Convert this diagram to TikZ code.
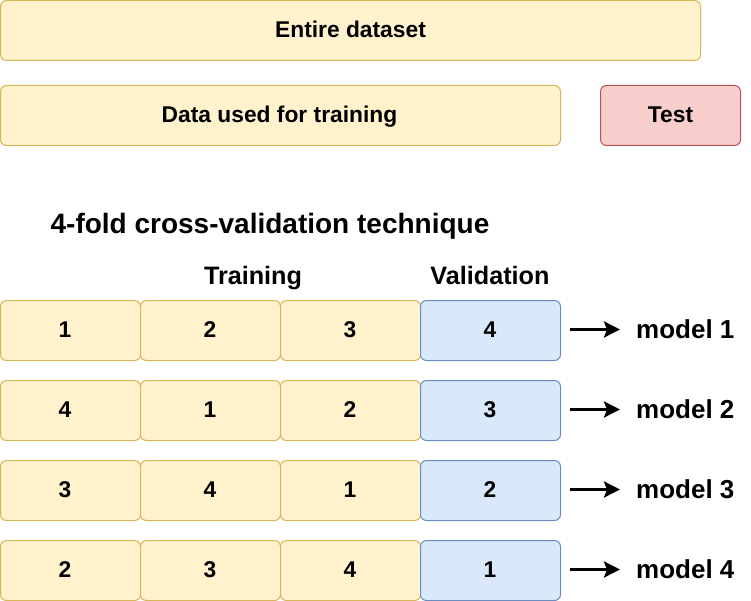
\documentclass[tikz,border=0pt]{standalone}
\usepackage{fontspec}
\setmainfont{Liberation Sans}
\usetikzlibrary{arrows.meta}
\definecolor{yfill}{HTML}{FFF2CC}
\definecolor{ydraw}{HTML}{D6B656}
\definecolor{rfill}{HTML}{F8CECC}
\definecolor{rdraw}{HTML}{B85450}
\definecolor{bfill}{HTML}{DAE8FC}
\definecolor{bdraw}{HTML}{6C8EBF}
\tikzset{
  box/.style={rounded corners=6pt, line width=1pt, inner sep=0pt, outer sep=0pt,
    minimum height=60pt},
  ybox/.style={box, fill=yfill, draw=ydraw},
  rbox/.style={box, fill=rfill, draw=rdraw},
  bbox/.style={box, fill=bfill, draw=bdraw},
  cell/.style={minimum width=140pt},
  txt/.style={inner sep=0pt, text depth=0pt},
  lbl/.style={txt, text height=18pt, font=\fontsize{25.2}{30}\selectfont\bfseries},
  mdl/.style={txt, text height=18.6pt, font=\fontsize{26}{30}\selectfont\bfseries},
  ttl/.style={txt, text height=20pt, font=\fontsize{28}{33}\selectfont\bfseries},
  dig/.style={txt, text height=16.3pt, font=\fontsize{22.8}{26}\selectfont\bfseries},
  arr/.style={-{Stealth[length=16pt,width=16pt,inset=3pt]}, line width=3.5pt}
}
\begin{document}
\begin{tikzpicture}[x=1pt,y=-1pt]
\useasboundingbox (0,0) rectangle (751,601);
\node[ybox, minimum width=700pt] (entire) at (350.5,30.5) {};
\node[dig] (entiret) at (350.5,29.5) {Entire dataset};
\node[ybox, minimum width=560pt] (train) at (280.5,115.5) {};
\node[dig] (traint) at (279.5,114.5) {Data used for training};
\node[rbox, minimum width=140pt] (test) at (670.5,115.5) {};
\node[dig] (testt) at (670.5,114.5) {Test};
\node[ttl] (title) at (270,224) {4-fold cross-validation technique};
\node[lbl] (htrain) at (253,275.5) {Training};
\node[lbl] (hval) at (490,275.5) {Validation};
\foreach \r/\a/\b/\c/\d [count=\i] in {1/1/2/3/4, 2/4/1/2/3, 3/3/4/1/2, 4/2/3/4/1} {
  \pgfmathsetmacro{\y}{330.5+80*(\i-1)}
  \pgfmathsetmacro{\yt}{329.5+80*(\i-1)}
  \node[ybox, cell] (c\r a) at (70.5,\y) {};
  \node[ybox, cell] (c\r b) at (210.5,\y) {};
  \node[ybox, cell] (c\r c) at (350.5,\y) {};
  \node[bbox, cell] (c\r d) at (490.5,\y) {};
  \node[dig] (t\r a) at (65,\yt) {\a};
  \node[dig] (t\r b) at (210,\yt) {\b};
  \node[dig] (t\r c) at (350,\yt) {\c};
  \node[dig] (t\r d) at (490,\yt) {\d};
  \node[mdl, anchor=west] (m\r) at (636,\yt) {model \r};
  \coordinate (s\r) at (570,\yt);
  \coordinate (e\r) at (620,\yt);
  \draw[arr] (s\r) -- (e\r);
}
\end{tikzpicture}
\end{document}
